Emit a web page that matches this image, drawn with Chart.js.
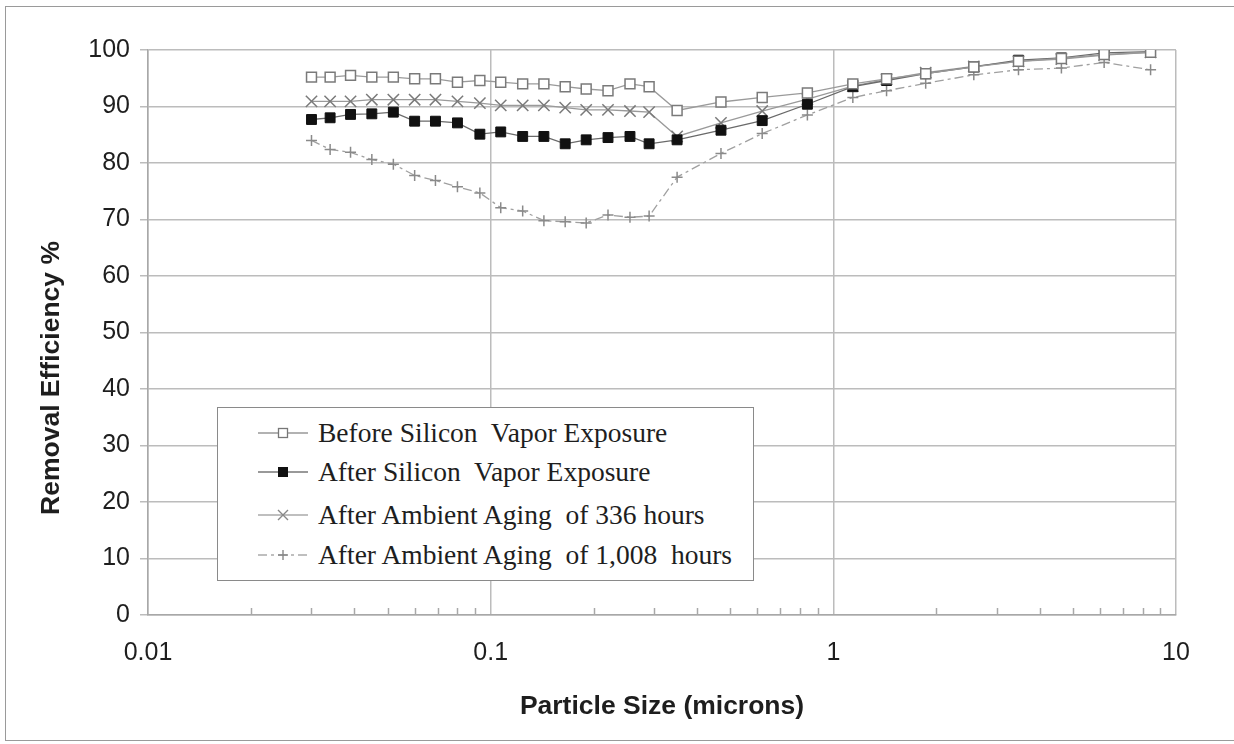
<!DOCTYPE html>
<html>
<head>
<meta charset="utf-8">
<script src="https://cdn.jsdelivr.net/npm/chart.js@4.4.1/dist/chart.umd.min.js"></script>
<style>
  html, body { margin: 0; padding: 0; background: #fff; }
  #wrap { position: relative; width: 1234px; height: 744px; overflow: hidden; background: #fff; }
  #frame { position: absolute; left: 5px; top: 6px; width: 1260px; height: 735px; border: 1.5px solid #9a9a9a; box-sizing: border-box; }
  #c { position: absolute; left: 0; top: 0; }
  #legend { position: absolute; left: 217px; top: 407px; width: 537px; height: 174px; border: 1.5px solid #8a8a8a; background: #fff; box-sizing: border-box; }
  .row { position: absolute; left: 0; height: 30px; width: 530px; }
  .row svg { position: absolute; left: 40px; top: 0; }
  .row span { position: absolute; left: 100px; top: 0; line-height: 30px; font-family: 'Liberation Serif', 'Times New Roman', serif; font-size: 27.5px; color: #1e1e1e; white-space: pre; }
</style>
</head>
<body>
<div id="wrap">
  <div id="frame"></div>
  <canvas id="c" width="1234" height="744"></canvas>
  <div id="legend"></div>
</div>
<script>
// ---- data ----
const particleSizes = [0.03, 0.034, 0.039, 0.045, 0.052, 0.06, 0.069, 0.08, 0.093, 0.107, 0.124, 0.143, 0.165, 0.19, 0.22, 0.255, 0.29, 0.35, 0.47, 0.62, 0.84, 1.14, 1.43, 1.86, 2.57, 3.47, 4.63, 6.17, 8.43];
const beforeExposure = [95.2, 95.2, 95.5, 95.2, 95.2, 94.9, 94.9, 94.3, 94.6, 94.3, 94.0, 94.0, 93.5, 93.1, 92.8, 94.0, 93.5, 89.3, 90.8, 91.6, 92.4, 94.0, 94.9, 95.8, 97.0, 98.0, 98.5, 99.2, 99.6];
const afterExposure = [87.7, 88.0, 88.6, 88.7, 89.0, 87.4, 87.4, 87.1, 85.1, 85.5, 84.7, 84.7, 83.4, 84.1, 84.5, 84.7, 83.4, 84.1, 85.8, 87.5, 90.4, 93.5, 94.6, 95.8, 97.0, 98.2, 98.6, 99.5, 99.7];
const aging336 = [90.9, 90.9, 90.9, 91.2, 91.2, 91.2, 91.2, 90.9, 90.6, 90.2, 90.2, 90.2, 89.8, 89.4, 89.4, 89.2, 89.0, 84.7, 87.1, 89.2, 91.3, 93.6, 94.8, 96.0, 97.1, 98.0, 98.4, 99.1, 99.6];
const aging1008 = [84.0, 82.4, 81.9, 80.6, 79.8, 77.8, 76.9, 75.8, 74.7, 72.1, 71.5, 69.8, 69.6, 69.4, 70.8, 70.4, 70.6, 77.5, 81.7, 85.2, 88.5, 91.6, 92.8, 94.1, 95.6, 96.5, 96.8, 97.8, 96.5];
const seriesLabels = ['Before Silicon  Vapor Exposure', 'After Silicon  Vapor Exposure', 'After Ambient Aging  of 336 hours', 'After Ambient Aging  of 1,008  hours'];
const xTickValues = [0.01, 0.1, 1, 10];
const xMinorMultipliers = [2, 3, 4, 5, 6, 7, 8, 9];
const yTickStep = 10;
const xTitle = 'Particle Size (microns)';
const yTitle = 'Removal Efficiency %';

const toPoints = (ys) => particleSizes.map((x, i) => ({ x: x, y: ys[i] }));

Chart.defaults.font.family = "'Liberation Sans', Arial, Helvetica, sans-serif";
Chart.defaults.color = '#222';

const gridColor = '#bcbcbc';

const extras = {
  id: 'extras',
  afterDraw(chart) {
    const ctx = chart.ctx;
    const xs = chart.scales.x;
    const yb = chart.chartArea.bottom;
    ctx.save();
    ctx.strokeStyle = '#a8a8a8';
    ctx.lineWidth = 1.5;
    for (let k = 0; k < xTickValues.length - 1; k++) {
      for (const m of xMinorMultipliers) {
        const px = Math.round(xs.getPixelForValue(xTickValues[k] * m)) + 0.5;
        ctx.beginPath();
        ctx.moveTo(px, yb);
        ctx.lineTo(px, yb - 7);
        ctx.stroke();
      }
    }
    // y axis title
    ctx.fillStyle = '#1e1e1e';
    ctx.font = "bold 26.5px 'Liberation Sans', Arial, sans-serif";
    ctx.textAlign = 'center';
    ctx.textBaseline = 'middle';
    ctx.translate(52, 378);
    ctx.rotate(-Math.PI / 2);
    ctx.fillText(yTitle, 0, 0);
    ctx.restore();
  }
};

new Chart(document.getElementById('c'), {
  type: 'line',
  data: {
    datasets: [
      { label: seriesLabels[0], data: toPoints(beforeExposure), borderColor: '#9a9a9a', borderWidth: 1.3,
        pointStyle: 'rect', pointRadius: 7, pointBackgroundColor: '#fff', pointBorderColor: '#7a7a7a', pointBorderWidth: 1.5 },
      { label: seriesLabels[1], data: toPoints(afterExposure), borderColor: '#6a6a6a', borderWidth: 1.3,
        pointStyle: 'rect', pointRadius: 7, pointBackgroundColor: '#111', pointBorderColor: '#111', pointBorderWidth: 1 },
      { label: seriesLabels[2], data: toPoints(aging336), borderColor: '#9a9a9a', borderWidth: 1.3,
        pointStyle: 'crossRot', pointRadius: 8, pointBorderColor: '#7a7a7a', pointBorderWidth: 1.5 },
      { label: seriesLabels[3], data: toPoints(aging1008), borderColor: '#a0a0a0', borderWidth: 1.3, borderDash: [9, 4, 3, 4],
        pointStyle: 'cross', pointRadius: 5.5, pointBorderColor: '#8a8a8a', pointBorderWidth: 1.5 }
    ]
  },
  options: {
    responsive: false,
    animation: false,
    devicePixelRatio: 1,
    layout: { padding: { top: 50, right: 58, left: 0, bottom: 0 } },
    plugins: { legend: { display: false }, tooltip: { enabled: false } },
    elements: { line: { tension: 0 } },
    scales: {
      x: {
        type: 'logarithmic',
        min: 0.01,
        max: 10,
        afterBuildTicks(scale) { scale.ticks = xTickValues.map(v => ({ value: v })); },
        afterFit(scale) { scale.height = 129; },
        ticks: {
          autoSkip: false,
          maxRotation: 0,
          padding: 23,
          font: { size: 25 },
          color: '#1e1e1e',
          callback: (v) => String(v)
        },
        grid: { color: gridColor, lineWidth: 1.5, drawTicks: false },
        border: { color: '#a8a8a8', width: 1.5 },
        title: { display: true, text: xTitle, font: { size: 26.5, weight: 'bold' }, color: '#1e1e1e', padding: { top: 0, bottom: 21 } }
      },
      y: {
        min: 0,
        max: 100,
        afterFit(scale) { scale.width = 148; },
        ticks: { stepSize: yTickStep, padding: 10, font: { size: 25 }, color: '#1e1e1e' },
        grid: { color: gridColor, lineWidth: 1.5, tickLength: 8 },
        border: { color: '#a8a8a8', width: 1.5 }
      }
    }
  },
  plugins: [extras]
});

// ---- legend (HTML overlay) ----
const legendRowsY = [10, 49, 92, 132];
const symbols = [
  '<line x1="0" y1="15" x2="50" y2="15" stroke="#999" stroke-width="1.3"/><rect x="20.5" y="10.5" width="9" height="9" fill="#fff" stroke="#777" stroke-width="1.3"/>',
  '<line x1="0" y1="15" x2="50" y2="15" stroke="#777" stroke-width="1.3"/><rect x="20" y="10" width="10" height="10" fill="#111"/>',
  '<line x1="0" y1="15" x2="50" y2="15" stroke="#aaa" stroke-width="1.3"/><path d="M20 10 L30 20 M30 10 L20 20" stroke="#888" stroke-width="1.4"/>',
  '<line x1="0" y1="15" x2="50" y2="15" stroke="#aaa" stroke-width="1.3" stroke-dasharray="9 4 3 4"/><path d="M25 10 L25 20 M20 15 L30 15" stroke="#888" stroke-width="1.4"/>'
];
const leg = document.getElementById('legend');
seriesLabels.forEach((lab, i) => {
  const row = document.createElement('div');
  row.className = 'row';
  row.style.top = legendRowsY[i] + 'px';
  row.innerHTML = '<svg width="52" height="30">' + symbols[i] + '</svg><span></span>';
  row.querySelector('span').textContent = lab;
  leg.appendChild(row);
});
</script>
</body>
</html>
